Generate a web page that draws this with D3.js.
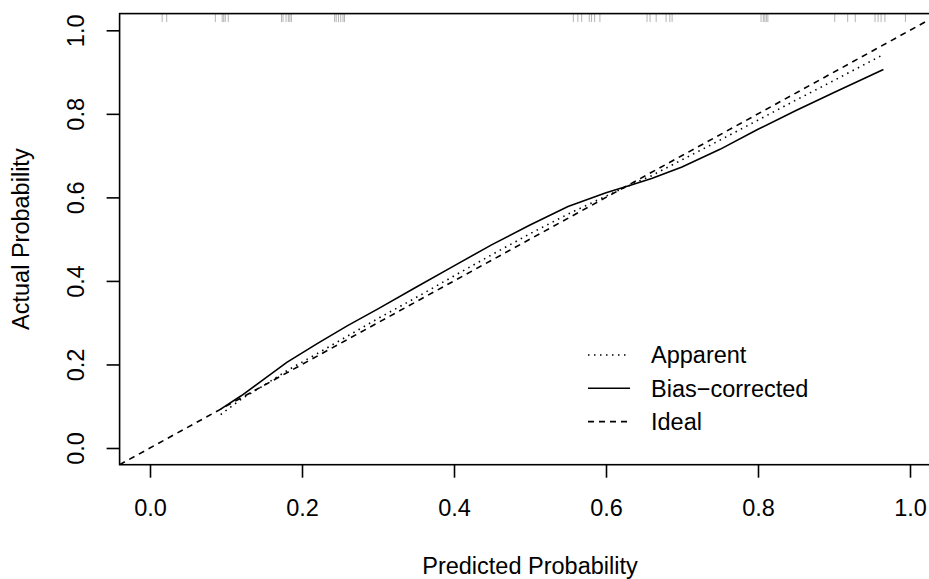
<!DOCTYPE html>
<html>
<head>
<meta charset="utf-8">
<script src="https://cdn.jsdelivr.net/npm/d3@7"></script>
<style>
  body { margin: 0; background: #fff; }
  svg { display: block; font-family: "Liberation Sans", Arial, sans-serif; }
</style>
</head>
<body>
<svg id="chart" width="929" height="579"></svg>
<script>
// calibration curve data
var predicted = [0.093, 0.12, 0.15, 0.18, 0.22, 0.26, 0.30, 0.35, 0.40, 0.45, 0.50, 0.55, 0.60, 0.63, 0.66, 0.70, 0.75, 0.80, 0.85, 0.90, 0.965];
var biasCorrected = [0.093, 0.125, 0.165, 0.205, 0.25, 0.293, 0.333, 0.385, 0.436, 0.487, 0.534, 0.578, 0.611, 0.628, 0.645, 0.673, 0.715, 0.763, 0.808, 0.851, 0.906];
var apparent = [0.08, 0.117, 0.15, 0.185, 0.226, 0.268, 0.31, 0.36, 0.412, 0.463, 0.513, 0.56, 0.603, 0.628, 0.652, 0.69, 0.737, 0.785, 0.833, 0.88, 0.942];
var ideal = [-0.04, 1.04];
// rug of predicted probabilities along the top
var rug = [0.016, 0.022, 0.086, 0.095, 0.097, 0.099, 0.103, 0.173, 0.175, 0.179, 0.182, 0.184, 0.186,
    0.243, 0.245, 0.248, 0.251, 0.254, 0.256, 0.557, 0.563, 0.568, 0.578, 0.581, 0.585, 0.592,
    0.654, 0.658, 0.666, 0.679, 0.684, 0.687, 0.804, 0.807, 0.809, 0.811, 0.813,
    0.901, 0.918, 0.928, 0.954, 0.958, 0.962, 0.967, 0.994];
var ticks = [0, 0.2, 0.4, 0.6, 0.8, 1.0];
var legendLabels = ["Apparent", "Bias\u2212corrected", "Ideal"];

var svg = d3.select("#chart");
var fs = "23.5px";

var x = d3.scaleLinear().domain([-0.04, 1.04]).range([119.6, 940.4]);
var y = d3.scaleLinear().domain([-0.04, 1.04]).range([464.7, 13.6]);

svg.append("clipPath").attr("id", "plotclip")
    .append("rect")
    .attr("x", x(-0.04)).attr("y", y(1.04))
    .attr("width", x(1.04) - x(-0.04)).attr("height", y(-0.04) - y(1.04));

// rug
svg.append("g").selectAll("line").data(rug).enter().append("line")
    .attr("x1", function(d) { return x(d); }).attr("x2", function(d) { return x(d); })
    .attr("y1", y(1.04)).attr("y2", y(1.04) + 8.5)
    .attr("stroke", "#b4b4b4").attr("stroke-width", 1);

var plot = svg.append("g").attr("clip-path", "url(#plotclip)");

var line = d3.line()
    .x(function(d) { return x(d[0]); })
    .y(function(d) { return y(d[1]); });

plot.append("path")
    .datum(ideal.map(function(v) { return [v, v]; }))
    .attr("d", line).attr("fill", "none").attr("stroke", "#000")
    .attr("stroke-width", 1.6).attr("stroke-dasharray", "6,5");

plot.append("path")
    .datum(predicted.map(function(v, i) { return [v, apparent[i]]; }))
    .attr("d", line).attr("fill", "none").attr("stroke", "#000")
    .attr("stroke-width", 1.6).attr("stroke-dasharray", "1.5,4.5");

plot.append("path")
    .datum(predicted.map(function(v, i) { return [v, biasCorrected[i]]; }))
    .attr("d", line).attr("fill", "none").attr("stroke", "#000")
    .attr("stroke-width", 1.6);

// box
svg.append("rect")
    .attr("x", x(-0.04)).attr("y", y(1.04))
    .attr("width", x(1.04) - x(-0.04)).attr("height", y(-0.04) - y(1.04))
    .attr("fill", "none").attr("stroke", "#000").attr("stroke-width", 1.6);

// axes
var xAxis = svg.append("g").attr("transform", "translate(0," + y(-0.04) + ")")
    .call(d3.axisBottom(x).tickValues(ticks).tickSize(13).tickPadding(20).tickFormat(d3.format(".1f")));
var yAxis = svg.append("g").attr("transform", "translate(" + x(-0.04) + ",0)")
    .call(d3.axisLeft(y).tickValues(ticks).tickSize(13).tickFormat(d3.format(".1f")));

[xAxis, yAxis].forEach(function(a) {
    a.select(".domain").remove();
    a.selectAll(".tick line").attr("stroke", "#000").attr("stroke-width", 1.6);
    a.selectAll(".tick text").attr("fill", "#000").style("font-size", fs)
        .style("font-family", "'Liberation Sans', Arial, sans-serif");
});
xAxis.selectAll(".tick text").attr("dy", null).attr("y", 51);
yAxis.selectAll(".tick text")
    .attr("x", null).attr("dy", null).attr("text-anchor", "middle")
    .attr("transform", "translate(-36,0) rotate(-90)");

// axis titles
svg.append("text")
    .attr("x", (x(-0.04) + x(1.04)) / 2).attr("y", 573.5)
    .attr("text-anchor", "middle").style("font-size", fs)
    .text("Predicted Probability");
svg.append("text")
    .attr("transform", "translate(29," + (y(-0.04) + y(1.04)) / 2 + ") rotate(-90)")
    .attr("text-anchor", "middle").style("font-size", fs)
    .text("Actual Probability");

// legend
var dashes = ["1.5,4.5", null, "6,5"];
var lg = svg.append("g").selectAll("g").data(legendLabels).enter().append("g")
    .attr("transform", function(d, i) { return "translate(588," + (355 + i * 33.3) + ")"; });
lg.append("line")
    .attr("x1", 0).attr("x2", 42).attr("y1", 0).attr("y2", 0)
    .attr("stroke", "#000").attr("stroke-width", 1.6)
    .attr("stroke-dasharray", function(d, i) { return dashes[i]; });
lg.append("text")
    .attr("x", 63).attr("y", 0).attr("dy", "0.36em")
    .style("font-size", fs)
    .text(function(d) { return d; });
</script>
</body>
</html>
